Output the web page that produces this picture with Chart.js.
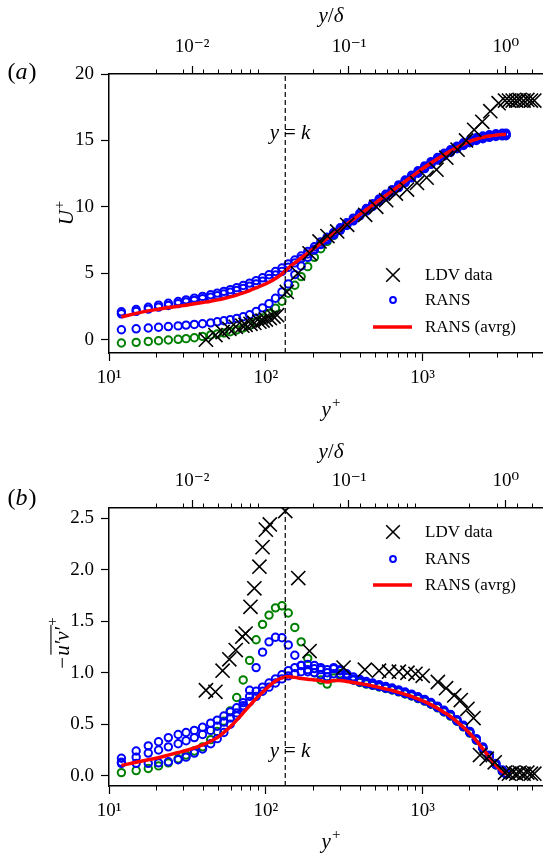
<!DOCTYPE html>
<html><head><meta charset="utf-8">
<script src="https://cdn.jsdelivr.net/npm/chart.js@4.4.0/dist/chart.umd.min.js"></script>
<style>
html,body{margin:0;padding:0;background:#fff;overflow:hidden;width:554px;height:858px}
.panel{position:absolute;left:0;width:554px;height:429px}
canvas{display:block}
</style></head><body>
<div class="panel" style="top:0"><canvas id="ca" width="554" height="429"></canvas></div>
<div class="panel" style="top:429px"><canvas id="cb" width="554" height="429"></canvas></div>
<script>
// ---------------- data ----------------
const yPlusMin = 10, yPlusMax = 5800, deltaPlus = 3390, yK = 133;

const xMajorTicks = [10, 100, 1000];
const xMajorLabels = ['10¹', '10²', '10³'];
const xMinorTicks = [20,30,40,50,60,70,80,90,200,300,400,500,600,700,800,900,2000,3000,4000,5000];
const topMajorTicks = [0.01, 0.1, 1];
const topMajorLabels = ['10⁻²', '10⁻¹', '10⁰'];
const yTicksA = [0, 5, 10, 15, 20];
const yLabelsA = ['0', '5', '10', '15', '20'];
const yTicksB = [0, 0.5, 1, 1.5, 2, 2.5];
const yLabelsB = ['0.0', '0.5', '1.0', '1.5', '2.0', '2.5'];

// RANS wall-normal grid (y+)
const yPlusRans = [12,14.9,17.8,20.7,23.9,27.6,31,35,39.5,44.5,49,54,59.3,65.2,71.7,78.8,86.7,95.3,104.8,115.2,126.7,139,153,168,185,204,224,246,271,298,328,361,397,437,480,528,581,639,703,773,850,935,1030,1130,1245,1370,1505,1655,1820,2000,2200,2420,2660,2930,3220,3400];

// panel (a): U+
const uRedA   = [1.72,1.98,2.17,2.3,2.42,2.52,2.6,2.7,2.8,2.9,3.0,3.1,3.22,3.36,3.52,3.7,3.9,4.1,4.33,4.6,4.95,5.38,5.78,6.15,6.52,6.9,7.26,7.62,7.98,8.33,8.7,9.05,9.42,9.78,10.13,10.5,10.85,11.2,11.55,11.92,12.28,12.63,12.98,13.3,13.62,13.93,14.2,14.47,14.72,14.93,15.1,15.23,15.33,15.4,15.44,15.45];
const uRans1A = [1.95,2.13,2.3,2.45,2.58,2.72,2.84,2.96,3.08,3.2,3.32,3.44,3.57,3.71,3.86,4.02,4.2,4.4,4.62,4.87,5.14,5.45,5.78,6.1,6.45,6.82,7.17,7.52,7.88,8.23,8.6,8.95,9.32,9.68,10.03,10.4,10.75,11.1,11.45,11.82,12.18,12.53,12.88,13.2,13.52,13.83,14.1,14.37,14.62,14.83,15.0,15.13,15.23,15.3,15.34,15.35];
const uRans2A = [2.1,2.27,2.44,2.6,2.74,2.88,3.0,3.13,3.26,3.39,3.51,3.64,3.77,3.92,4.08,4.26,4.45,4.66,4.89,5.13,5.4,5.7,6.0,6.3,6.64,7.0,7.36,7.72,8.08,8.43,8.8,9.15,9.52,9.88,10.23,10.6,10.95,11.3,11.65,12.02,12.38,12.73,13.08,13.4,13.72,14.03,14.3,14.57,14.82,15.03,15.2,15.33,15.43,15.5,15.54,15.55];
const uRans3A = [0.75,0.82,0.88,0.94,0.99,1.04,1.1,1.15,1.2,1.27,1.35,1.43,1.51,1.6,1.73,1.88,2.12,2.4,2.72,3.12,3.6,4.2,4.9,5.55,6.2,6.75,7.2,7.6,7.95,8.3,8.67,9.02,9.4,9.76,10.11,10.48,10.83,11.18,11.53,11.9,12.26,12.61,12.96,13.28,13.6,13.91,14.18,14.45,14.7,14.91,15.08,15.21,15.31,15.38,15.42,15.43];
const uRansGA = [-0.25,-0.2,-0.13,-0.08,-0.02,0.03,0.08,0.15,0.25,0.36,0.44,0.51,0.6,0.73,0.88,1.08,1.35,1.63,1.97,2.38,2.9,3.5,4.1,4.75,5.5,6.2,6.85,7.4,7.85,8.25,8.65,9.02,9.4,9.76,10.11,10.48,10.83,11.18,11.53,11.9,12.26,12.61,12.96,13.28,13.6,13.91,14.18,14.45,14.7,14.91,15.08,15.21,15.31,15.38,15.42,15.43];
const ldvYpA = [41.5,47.7,53,58.5,64.3,70.8,74.3,79.8,84.5,91,95.3,100,106,112,118,136,160,190,220,247,285,330,430,506,585,675,795,920,1060,1225,1415,1670,1890,2130,2400,2700,3050,3350,3550,3750,3950,4150,4400,4650,4900,5150];
const ldvUA  = [0.0,0.35,0.58,0.82,0.97,1.06,1.12,1.2,1.26,1.36,1.44,1.52,1.63,1.74,1.85,3.6,5.0,6.5,7.4,7.8,8.15,8.65,9.4,10.0,10.5,11.0,11.3,11.8,12.2,12.8,13.7,14.3,15.0,15.8,16.4,17.2,17.8,18.0,18.0,18.0,18.0,18.05,18.0,18.05,18.0,18.0];

// panel (b): -u'v'+
const uvRedB   = [0.10,0.13,0.155,0.175,0.2,0.225,0.245,0.27,0.30,0.335,0.37,0.42,0.475,0.54,0.61,0.68,0.75,0.81,0.87,0.92,0.95,0.96,0.955,0.945,0.937,0.93,0.922,0.91,0.925,0.925,0.915,0.905,0.895,0.885,0.872,0.858,0.843,0.828,0.81,0.79,0.77,0.745,0.72,0.69,0.655,0.615,0.575,0.525,0.47,0.41,0.34,0.26,0.18,0.10,0.04,0.015];
const uvRans1B = [0.17,0.24,0.29,0.33,0.37,0.40,0.42,0.44,0.47,0.51,0.54,0.58,0.62,0.66,0.71,0.77,0.82,0.86,0.90,0.94,0.98,1.02,1.05,1.07,1.08,1.07,1.05,1.03,1.05,1.03,0.99,0.96,0.935,0.915,0.9,0.885,0.868,0.852,0.833,0.813,0.792,0.767,0.741,0.711,0.676,0.636,0.595,0.545,0.49,0.43,0.36,0.28,0.2,0.12,0.055,0.025];
const uvRans2B = [0.13,0.18,0.22,0.25,0.28,0.31,0.34,0.37,0.40,0.44,0.48,0.52,0.56,0.61,0.66,0.72,0.77,0.82,0.86,0.9,0.94,0.97,0.99,1.01,1.01,1.0,0.98,0.96,0.99,0.98,0.955,0.93,0.91,0.895,0.88,0.865,0.85,0.835,0.817,0.797,0.777,0.752,0.727,0.697,0.662,0.622,0.582,0.532,0.477,0.417,0.347,0.267,0.187,0.107,0.045,0.018];
const uvRans3B = [0.12,0.12,0.12,0.125,0.135,0.155,0.18,0.22,0.26,0.31,0.36,0.42,0.5,0.58,0.68,0.83,1.05,1.2,1.3,1.345,1.34,1.27,1.17,1.07,1.03,1.04,1.03,1.0,1.04,1.02,0.975,0.94,0.92,0.9,0.885,0.87,0.855,0.84,0.822,0.802,0.782,0.757,0.732,0.702,0.667,0.627,0.587,0.537,0.482,0.422,0.352,0.272,0.192,0.112,0.05,0.02];
const uvRansGB = [0.03,0.05,0.07,0.095,0.125,0.165,0.2,0.24,0.28,0.35,0.43,0.53,0.63,0.76,0.93,1.12,1.32,1.47,1.56,1.63,1.65,1.58,1.44,1.3,1.14,1.0,0.93,0.89,0.95,0.99,0.96,0.93,0.905,0.89,0.877,0.862,0.847,0.832,0.814,0.794,0.774,0.749,0.724,0.694,0.659,0.619,0.579,0.529,0.474,0.414,0.344,0.264,0.184,0.104,0.042,0.016];
const ldvYpB = [41.5,47.7,53,58.5,64.3,70.8,74.3,79.8,84.5,91,95.3,100,106,133,161,190,313,428,527,611,705,800,900,1000,1250,1410,1590,1750,1930,2110,2320,2560,2880,3350,3550,3750,3950,4150,4400,4650,4900,5150];
const ldvUVB = [0.83,0.815,1.02,1.13,1.22,1.35,1.38,1.64,1.82,2.03,2.22,2.39,2.44,2.57,1.92,1.21,1.05,1.03,1.02,1.01,1.01,1.0,0.99,0.97,0.91,0.85,0.78,0.735,0.65,0.56,0.20,0.165,0.13,0.03,0.02,0.03,0.02,0.03,0.02,0.03,0.02,0.02];

const legendLabels = ['LDV data', 'RANS', 'RANS (avrg)'];

// ---------------- styling ----------------
const SERIF = '"Liberation Serif", "DejaVu Serif", "Times New Roman", serif';
const TICK_FONT = 19;
const BLUE = '#0000ff', GREEN = '#008000', RED = '#ff0000';
Chart.defaults.font.family = SERIF;
Chart.defaults.color = '#000';

const pts = (xs, ys) => xs.map((x, i) => ({x: x, y: ys[i]}));

function ransSet(ys, color, order) {
  return { label: 'RANS', data: pts(yPlusRans, ys), showLine: false, pointStyle: 'circle',
    pointRadius: 3.7, pointBorderWidth: 2, borderColor: color, pointBorderColor: color,
    backgroundColor: 'rgba(0,0,0,0)', pointBackgroundColor: 'rgba(0,0,0,0)', order: order };
}
function ldvSet(xs, ys) {
  return { label: legendLabels[0], data: pts(xs, ys), showLine: false, pointStyle: 'crossRot',
    pointRadius: 10, pointBorderWidth: 1.6, borderColor: '#000', pointBorderColor: '#000', order: 0 };
}
function redSet(ys) {
  return { label: legendLabels[2], data: pts(yPlusRans, ys), showLine: true, pointRadius: 0,
    borderColor: RED, borderWidth: 3.5, cubicInterpolationMode: 'monotone', order: 2 };
}
function kSet(ymin, ymax) {
  return { label: 'y=k', data: [{x: yK, y: ymin}, {x: yK, y: ymax}], showLine: true, pointRadius: 0,
    borderColor: '#000', borderWidth: 1.2, borderDash: [5, 3], order: 1 };
}

function drawRich(ctx, parts, cx, cy, opts) {
  opts = opts || {};
  ctx.save();
  ctx.translate(cx, cy);
  if (opts.rot) ctx.rotate(opts.rot);
  ctx.fillStyle = '#000'; ctx.strokeStyle = '#000';
  ctx.textBaseline = 'alphabetic'; ctx.textAlign = 'left';
  let total = 0;
  for (const p of parts) {
    ctx.font = (p.it ? 'italic ' : '') + p.size + 'px ' + SERIF;
    p._w = ctx.measureText(p.t).width;
    total += p._w + (p.pre || 0) + (p.post || 0);
  }
  let x = opts.left ? 0 : -total / 2;
  const base = opts.base != null ? opts.base : 7;
  for (const p of parts) {
    x += p.pre || 0;
    ctx.font = (p.it ? 'italic ' : '') + p.size + 'px ' + SERIF;
    ctx.fillText(p.t, x, base + (p.dy || 0));
    if (p.over) {
      ctx.lineWidth = 1.1; ctx.beginPath();
      const oy = base - p.size * 0.86;
      ctx.moveTo(x + 1, oy); ctx.lineTo(x + p._w + 2, oy); ctx.stroke();
    }
    x += p._w + (p.post || 0);
  }
  ctx.restore();
}

function drawLegend(ctx, L) {
  const mx = L.x, tx = L.tx;
  ctx.save();
  ctx.strokeStyle = '#000'; ctx.lineWidth = 1.6;
  const d = 6.8, y0 = L.rows[0];
  ctx.beginPath(); ctx.moveTo(mx - d, y0 - d); ctx.lineTo(mx + d, y0 + d);
  ctx.moveTo(mx - d, y0 + d); ctx.lineTo(mx + d, y0 - d); ctx.stroke();
  ctx.strokeStyle = BLUE; ctx.lineWidth = 2;
  ctx.beginPath(); ctx.arc(mx, L.rows[1], 2.9, 0, Math.PI * 2); ctx.stroke();
  ctx.strokeStyle = RED; ctx.lineWidth = 3.5;
  ctx.beginPath(); ctx.moveTo(mx - 20, L.rows[2]); ctx.lineTo(mx + 19, L.rows[2]); ctx.stroke();
  ctx.fillStyle = '#000'; ctx.font = '17px ' + SERIF; ctx.textBaseline = 'middle'; ctx.textAlign = 'left';
  legendLabels.forEach((t, i) => ctx.fillText(t, tx, L.rows[i] + 1));
  ctx.restore();
}

const decoPlugin = {
  id: 'deco',
  afterDraw(chart, args, o) {
    const ctx = chart.ctx;
    o.texts.forEach(tx => drawRich(ctx, tx.parts, tx.x, tx.y, tx.opts));
    drawLegend(ctx, o.legend);
  }
};

function makePanel(id, P) {
  const H = 429;
  const majorX = (pos, min, max, ticks, labels, h, pad) => ({
    type: 'logarithmic', position: pos, min: min, max: max, weight: 1,
    afterFit: s => { s.height = h; },
    afterBuildTicks: s => { s.ticks = ticks.map(v => ({value: v})); },
    ticks: { autoSkip: false, maxRotation: 0, minRotation: 0, padding: pad, color: '#000',
      font: {family: SERIF, size: TICK_FONT}, callback: (v, i) => labels[i] },
    grid: { drawOnChartArea: false, drawTicks: true, tickLength: 8, tickWidth: 1.2, tickColor: '#000' },
    border: { display: true, color: '#000', width: 1.5 }
  });
  const minorX = (pos, min, max, ticks) => ({
    type: 'logarithmic', position: pos, min: min, max: max, weight: 0,
    afterFit: s => { s.height = 0; },
    afterBuildTicks: s => { s.ticks = ticks.map(v => ({value: v})); },
    ticks: { display: false },
    grid: { drawOnChartArea: false, drawTicks: true, tickLength: 4.5, tickWidth: 1, tickColor: '#000' },
    border: { display: false }
  });
  return new Chart(document.getElementById(id), {
    type: 'scatter',
    data: { datasets: P.datasets },
    options: {
      responsive: false, maintainAspectRatio: false, animation: false,
      layout: { padding: 0 },
      plugins: { legend: { display: false }, tooltip: { enabled: false }, deco: P.deco },
      scales: {
        x: majorX('bottom', yPlusMin, yPlusMax, xMajorTicks, xMajorLabels, H - P.bottom, 6),
        xm: minorX('bottom', yPlusMin, yPlusMax, xMinorTicks),
        x2: majorX('top', yPlusMin / deltaPlus, yPlusMax / deltaPlus, topMajorTicks, topMajorLabels, P.top, 8),
        x2m: minorX('top', yPlusMin / deltaPlus, yPlusMax / deltaPlus, xMinorTicks.map(v => v / deltaPlus)),
        y: {
          type: 'linear', position: 'left', min: P.ymin, max: P.ymax,
          afterFit: s => { s.width = 109; },
          afterBuildTicks: s => { s.ticks = P.yTicks.map(v => ({value: v})); },
          ticks: { padding: 7, color: '#000', font: {family: SERIF, size: TICK_FONT}, callback: (v, i) => P.yLabels[i] },
          grid: { drawOnChartArea: false, drawTicks: true, tickLength: 8, tickWidth: 1.2, tickColor: '#000' },
          border: { display: true, color: '#000', width: 1.5 }
        }
      }
    },
    plugins: [decoPlugin]
  });
}

const yTitle = () => [{t: 'y', it: true, size: 21}, {t: '/', size: 21}, {t: 'δ', it: true, size: 21}];
const yPlusTitle = [{t: 'y', it: true, size: 21}, {t: '+', size: 15, dy: -9, pre: 1}];
const ykText = [{t: 'y', it: true, size: 21}, {t: '=', size: 21, pre: 5, post: 5}, {t: 'k', it: true, size: 21}];

makePanel('ca', {
  top: 74, bottom: 353, ymin: -1, ymax: 20, yTicks: yTicksA, yLabels: yLabelsA,
  datasets: [
    ldvSet(ldvYpA, ldvUA),
    kSet(-1, 20),
    redSet(uRedA),
    ransSet(uRans1A, BLUE, 3),
    ransSet(uRans2A, BLUE, 3),
    ransSet(uRans3A, BLUE, 3),
    ransSet(uRansGA, GREEN, 4)
  ],
  deco: {
    texts: [
      {parts: [{t: '(', size: 24}, {t: 'a', it: true, size: 24}, {t: ')', size: 24, pre: 1}], x: 22, y: 71, opts: {base: 8}},
      {parts: yTitle(), x: 331, y: 15},
      {parts: [{t: 'U', it: true, size: 21}, {t: '+', size: 15, dy: -9, pre: 1}], x: 66, y: 213, opts: {rot: -Math.PI / 2}},
      {parts: yPlusTitle, x: 331, y: 409},
      {parts: ykText, x: 290, y: 132}
    ],
    legend: {x: 393, tx: 425, rows: [275, 300, 327]}
  }
});

makePanel('cb', {
  top: 79, bottom: 357, ymin: -0.1, ymax: 2.6, yTicks: yTicksB, yLabels: yLabelsB,
  datasets: [
    ldvSet(ldvYpB, ldvUVB),
    kSet(-0.1, 2.6),
    redSet(uvRedB),
    ransSet(uvRans1B, BLUE, 3),
    ransSet(uvRans2B, BLUE, 3),
    ransSet(uvRans3B, BLUE, 3),
    ransSet(uvRansGB, GREEN, 4)
  ],
  deco: {
    texts: [
      {parts: [{t: '(', size: 24}, {t: 'b', it: true, size: 24}, {t: ')', size: 24, pre: 1}], x: 22, y: 68, opts: {base: 8}},
      {parts: yTitle(), x: 331, y: 22},
      {parts: [{t: '−', size: 21}, {t: 'u′v′', it: true, size: 21, over: true, pre: 1}, {t: '+', size: 15, dy: -12, pre: 1}], x: 62, y: 214, opts: {rot: -Math.PI / 2}},
      {parts: yPlusTitle, x: 331, y: 412},
      {parts: ykText, x: 290, y: 321}
    ],
    legend: {x: 393, tx: 425, rows: [103, 130, 156]}
  }
});
</script>
</body></html>
